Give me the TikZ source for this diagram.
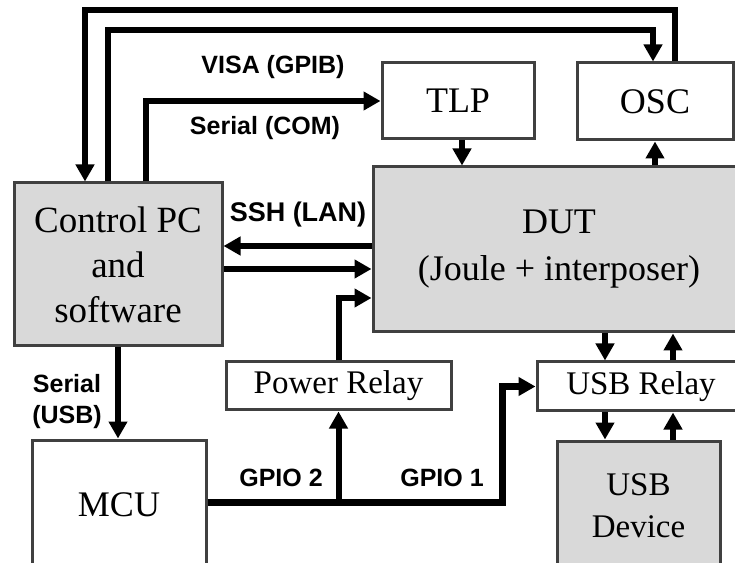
\documentclass[tikz,border=0pt]{standalone}
\usepackage{fontspec}
\setmainfont{Liberation Serif}
\setsansfont{Liberation Sans}
\usetikzlibrary{arrows.meta,positioning,calc}
\definecolor{boxgray}{RGB}{217,217,217}
\definecolor{edgegray}{RGB}{64,64,64}
\tikzset{
  box/.style={draw=edgegray, line width=3pt, rectangle, align=center, font=\fontsize{36}{43}\selectfont, inner sep=0pt, fill=white},
  sbox/.style={box, fill=boxgray},
  arr/.style={-{Triangle[length=17pt,width=18pt]}, line width=6pt},
  lbl/.style={font=\sffamily\bfseries\fontsize{25}{31}\selectfont, align=center, inner sep=0pt},
}
\begin{document}
\begin{tikzpicture}[x=1pt,y=1pt]
\useasboundingbox (0,0) rectangle (735,562);
\node[sbox, minimum width=208pt, minimum height=163pt, font=\fontsize{37}{45}\selectfont] (pc) at (118,297.5) {Control PC\\and\\software};
\node[box, minimum width=152pt, minimum height=76pt] (tlp) at (458,461) {TLP};
\node[box, minimum width=156pt, minimum height=77pt] (osc) at (655,460.5) {OSC};
\node[sbox, minimum width=372pt, minimum height=165pt, font=\fontsize{36}{47}\selectfont] (dut) at (559,312.5) {DUT\\(Joule + interposer)};
\node[box, minimum width=225pt, minimum height=48pt, font=\fontsize{33}{40}\selectfont] (prelay) at (338.5,176) {Power Relay};
\node[box, minimum width=208pt, minimum height=49pt, font=\fontsize{33}{40}\selectfont] (urelay) at (641,175.5) {USB Relay};
\node[box, minimum width=174pt, minimum height=130pt] (mcu) at (119,57) {MCU};
\node[sbox, minimum width=163pt, minimum height=129pt, font=\fontsize{33}{42}\selectfont] (usbdev) at (638.5,56.5) {USB\\Device};
% instrument links
\draw[arr] ([xshift=20pt]osc.north) -- ++(0,51) -| ([xshift=-33pt]pc.north);
\draw[arr] ([xshift=-10pt]pc.north) -- ++(0,151) -| ([xshift=-2pt]osc.north);
\draw[arr] ([xshift=28pt]pc.north) |- (tlp.west);
\draw[arr] ([xshift=4pt]tlp.south) -- ([xshift=4pt]tlp.south |- dut.north);
\draw[arr] (osc.south |- dut.north) -- (osc.south);
\node[lbl] (visa) at (273,495) {VISA (GPIB)};
\node[lbl] (com) at (265,434) {Serial (COM)};
% lan
\draw[arr] ([yshift=3.5pt]dut.west) -- ([yshift=3.5pt]dut.west -| pc.east);
\draw[arr] ([yshift=-19.5pt]dut.west -| pc.east) -- ([yshift=-19.5pt]dut.west);
\node[lbl, font=\sffamily\bfseries\fontsize{27}{32}\selectfont] (ssh) at (298,347) {SSH (LAN)};
% usb path
\draw[arr] ([xshift=-36pt]urelay.north |- dut.south) -- ([xshift=-36pt]urelay.north);
\draw[arr] ([xshift=32pt]urelay.north) -- ([xshift=32pt]urelay.north |- dut.south);
\draw[arr] ([xshift=-36pt]urelay.south) -- ([xshift=-36pt]urelay.south |- usbdev.north);
\draw[arr] ([xshift=32pt]urelay.south |- usbdev.north) -- ([xshift=32pt]urelay.south);
% power
\draw[arr] (prelay.north) |- ([yshift=-48.5pt]dut.west);
% mcu
\draw[arr] (pc.south) -- (pc.south |- mcu.north);
\node[lbl] (susb) at (67,160) {Serial\\(USB)};
\coordinate (gp) at ([yshift=3pt]mcu.east);
\draw[arr, line width=7pt] (gp) -| ([xshift=-33pt]urelay.west) -- (urelay.west);
\draw[arr] (prelay.south |- gp) -- (prelay.south);
\node[lbl] (gpio2) at (281,84) {GPIO 2};
\node[lbl] (gpio1) at (442,84) {GPIO 1};
\end{tikzpicture}
\end{document}
